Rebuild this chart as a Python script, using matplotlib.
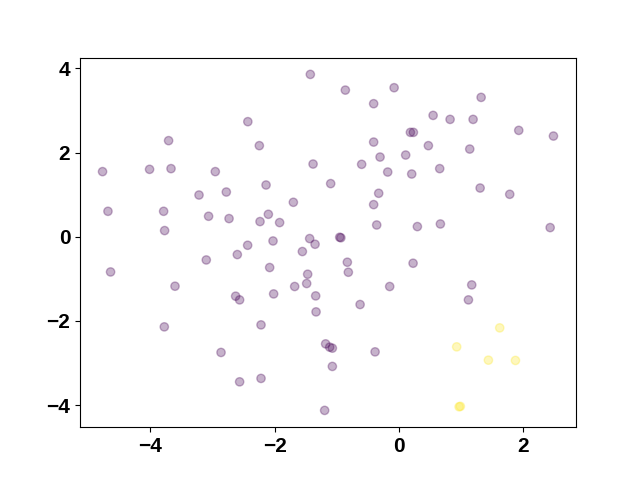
import matplotlib
matplotlib.use("Agg")
import matplotlib.pyplot as plt
import numpy as np

x_vals = [-1.427, -0.864, -0.080, -0.409, 1.319, -2.432, 0.182, 0.230, 0.547, 0.820,
          1.190, 1.924, 2.482, -3.706, -2.247, -0.409, 0.471, 1.136, -4.768, -4.012,
          -3.667, -2.955, -1.383, -0.602, -0.306, 0.106, -0.183, 0.203, 0.653, -3.217,
          -2.778, -2.139, -1.100, -0.328, 1.303, 1.779, -4.681, -3.786, -3.063, -2.734,
          -1.700, -0.409, -2.102, -2.236, -1.921, -0.360, 0.294, 0.664, 2.429, -3.770,
          -1.438, -0.955, -0.936, -2.027, -1.351, -2.435, -2.601, -3.100, -1.555, -2.081,
          -1.470, -0.832, -0.816, 0.225, -4.639, -3.603, -1.679, -1.486, -1.341, -2.017,
          -0.151, 1.168, 1.115, -2.628, -2.564, -0.627, -1.335, -3.775, -2.220, -1.181,
          -1.116, -1.073, -0.386, -2.863, -2.564, -2.220, -1.073, -1.197,
          1.618, 0.926, 1.436, 1.871, 0.965, 0.985]
y_vals = [3.858, 3.485, 3.542, 3.162, 3.312, 2.735, 2.481, 2.481, 2.884, 2.789,
          2.789, 2.528, 2.393, 2.284, 2.165, 2.250, 2.165, 2.084, 1.548, 1.602,
          1.619, 1.548, 1.728, 1.721, 1.894, 1.942, 1.538, 1.491, 1.619, 0.992,
          1.063, 1.230, 1.263, 1.033, 1.158, 1.009, 0.605, 0.605, 0.487, 0.432,
          0.819, 0.764, 0.534, 0.361, 0.337, 0.280, 0.242, 0.304, 0.218, 0.147,
          -0.043, -0.012, -0.024, -0.100, -0.178, -0.202, -0.423, -0.551, -0.351, -0.731,
          -0.890, -0.605, -0.843, -0.629, -0.836, -1.175, -1.182, -1.111, -1.405, -1.358,
          -1.182, -1.144, -1.500, -1.412, -1.500, -1.610, -1.785, -2.141, -2.094, -2.545,
          -2.623, -2.647, -2.735, -2.749, -3.447, -3.366, -3.081, -4.126,
          -2.165, -2.616, -2.932, -2.939, -4.040, -4.030]
labels = [0] * 88 + [1] * 6

plt.rcParams['font.family'] = ['Liberation Sans', 'DejaVu Sans']
fig, ax = plt.subplots(figsize=(6.4, 4.8), dpi=100)
ax.scatter(x_vals, y_vals, c=labels, cmap='viridis', alpha=0.3)
ax.set_xticks([-4, -2, 0, 2])
ax.set_yticks([-4, -2, 0, 2, 4])
for lab in ax.get_xticklabels() + ax.get_yticklabels():
    lab.set_fontsize(15)
    lab.set_fontweight('bold')
fig.savefig('out.png')
